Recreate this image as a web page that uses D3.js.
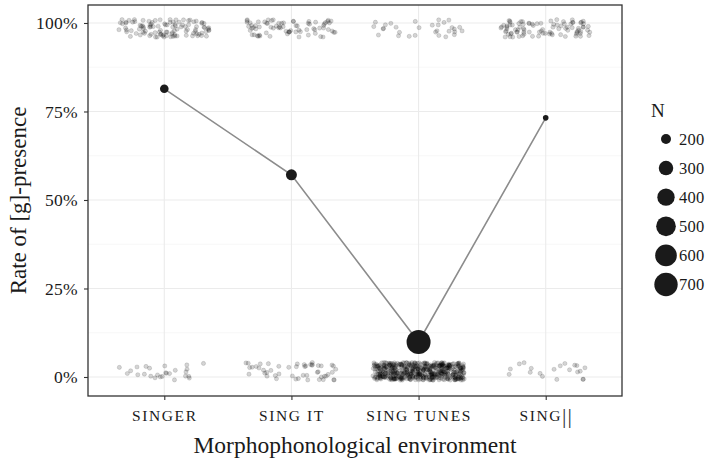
<!DOCTYPE html>
<html><head><meta charset="utf-8">
<script src="https://cdn.jsdelivr.net/npm/d3@7"></script>
<style>
body{margin:0;background:#fff;}
text{font-family:"Liberation Serif","DejaVu Serif",serif;fill:#1a1a1a;}
</style></head>
<body><svg id="c" width="710" height="463"></svg>
<script>
// ---- data ----
const categories = ["SINGER", "SING IT", "SING TUNES", "SING||"];
const rates      = [0.814, 0.571, 0.099, 0.732];   // rate of [g]-presence
const sizesN     = [183, 217, 737, 168];            // N per environment
const presentTokens = [105, 75, 30, 90];            // tokens with [g] (jittered near 100%)
const absentTokens  = [26, 50, 520, 20];            // tokens without [g] (jittered near 0%)
const yTicks = [0, 0.25, 0.5, 0.75, 1];
const yMinor = [0.125, 0.375, 0.625, 0.875];
const legendBreaks = [200, 300, 400, 500, 600, 700];

const svg = d3.select("#c");
const L = 88, R = 622, T = 5, B = 396;

const x = d3.scalePoint().domain(categories).range([L, R]).padding(0.6);
const y = d3.scaleLinear().domain([-0.0537, 1.0508]).range([B, T]);
const rS = d3.scaleSqrt().domain([0, 569]).range([0, 9.2]);
const r = n => 2.8 + rS(Math.max(0, n - 168));

// grid
const g = svg.append("g");
g.selectAll(".mn").data(yMinor).join("line")
  .attr("x1", L).attr("x2", R).attr("y1", d => y(d)).attr("y2", d => y(d))
  .attr("stroke", "#f2f2f2").attr("stroke-width", 0.6);
g.selectAll(".mj").data(yTicks).join("line")
  .attr("x1", L).attr("x2", R).attr("y1", d => y(d)).attr("y2", d => y(d))
  .attr("stroke", "#ebebeb").attr("stroke-width", 1.1);
g.selectAll(".vx").data(categories).join("line")
  .attr("x1", d => x(d)).attr("x2", d => x(d)).attr("y1", T).attr("y2", B)
  .attr("stroke", "#ebebeb").attr("stroke-width", 1.1);

// jittered tokens (deterministic hash jitter, like geom_jitter)
const step = x.step();
const hash = s => { const v = Math.sin(s * 12.9898 + 78.233) * 43758.5453; return v - Math.floor(v); };
const tokens = [];
categories.forEach((c, i) => {
  [[presentTokens[i], 0.985], [absentTokens[i], 0.016]].forEach(([cnt, v], k) => {
    for (let j = 0; j < cnt; j++) {
      const s = j + 1 + i * 1009 + k * 5003;
      tokens.push({cat: c, v: v, jx: (hash(s) - 0.5) * 0.72, jy: (hash(s + 0.37) - 0.5) * 0.05});
    }
  });
});
svg.append("g").selectAll("circle").data(tokens).join("circle")
  .attr("cx", d => x(d.cat) + d.jx * step)
  .attr("cy", d => y(d.v + d.jy))
  .attr("r", 2.1)
  .attr("fill", "#000").attr("fill-opacity", 0.17)
  .attr("stroke", "#000").attr("stroke-opacity", 0.17).attr("stroke-width", 0.7);

// line + summary points
const summ = categories.map((c, i) => ({c, rate: rates[i], n: sizesN[i]}));
svg.append("path").datum(summ)
  .attr("d", d3.line().x(d => x(d.c)).y(d => y(d.rate)))
  .attr("fill", "none").attr("stroke", "#8c8c8c").attr("stroke-width", 1.6);
svg.append("g").selectAll("circle").data(summ).join("circle")
  .attr("cx", d => x(d.c)).attr("cy", d => y(d.rate)).attr("r", d => r(d.n))
  .attr("fill", "#1a1a1a");

// panel border
svg.append("rect").attr("x", L).attr("y", T).attr("width", R - L).attr("height", B - T)
  .attr("fill", "none").attr("stroke", "#333").attr("stroke-width", 1.3);

// axes
const ya = svg.append("g").attr("transform", `translate(${L},0)`)
  .call(d3.axisLeft(y).tickValues(yTicks).tickFormat(d3.format(".0%")).tickSize(4).tickPadding(6));
ya.select(".domain").remove();
ya.selectAll("line").attr("stroke", "#333").attr("stroke-width", 1.1);
ya.selectAll("text").attr("font-size", 17.5).attr("fill", "#333").attr("letter-spacing", 0.3)
  .style("font-family", "Liberation Serif");

const xa = svg.append("g").attr("transform", `translate(0,${B})`)
  .call(d3.axisBottom(x).tickSize(4).tickPadding(10));
xa.select(".domain").remove();
xa.selectAll("line").attr("stroke", "#333").attr("stroke-width", 1.1);
xa.selectAll("text").attr("font-size", 15.5).attr("fill", "#333")
  .style("font-family", "Liberation Serif").attr("letter-spacing", 1.6)
  .each(function(d) {
    const t = d3.select(this);
    if (d.endsWith("||")) {
      t.text(null);
      t.append("tspan").text(d.slice(0, -2));
      t.append("tspan").attr("font-size", 22).attr("dy", 2).attr("letter-spacing", 1)
        .attr("fill", "#333").text("||");
    }
  });

// axis titles
svg.append("text").attr("x", (L + R) / 2).attr("y", 453).attr("text-anchor", "middle")
  .attr("font-size", 23.5).text("Morphophonological environment");
svg.append("text").attr("transform", `translate(26,${(T + B) / 2}) rotate(-90)`)
  .attr("text-anchor", "middle").attr("font-size", 23).text("Rate of [g]-presence");

// legend
const lg = svg.append("g");
lg.append("text").attr("x", 651).attr("y", 117).attr("font-size", 19).text("N");
const items = lg.selectAll("g").data(legendBreaks).join("g")
  .attr("transform", (d, i) => `translate(0,${139 + i * 29.1})`);
items.append("circle").attr("cx", 666).attr("cy", 0).attr("r", d => r(d)).attr("fill", "#1a1a1a");
items.append("text").attr("x", 679).attr("y", 0).attr("dy", "0.35em")
  .attr("font-size", 16.5).attr("letter-spacing", 0.3).text(d => d);
</script></body></html>
